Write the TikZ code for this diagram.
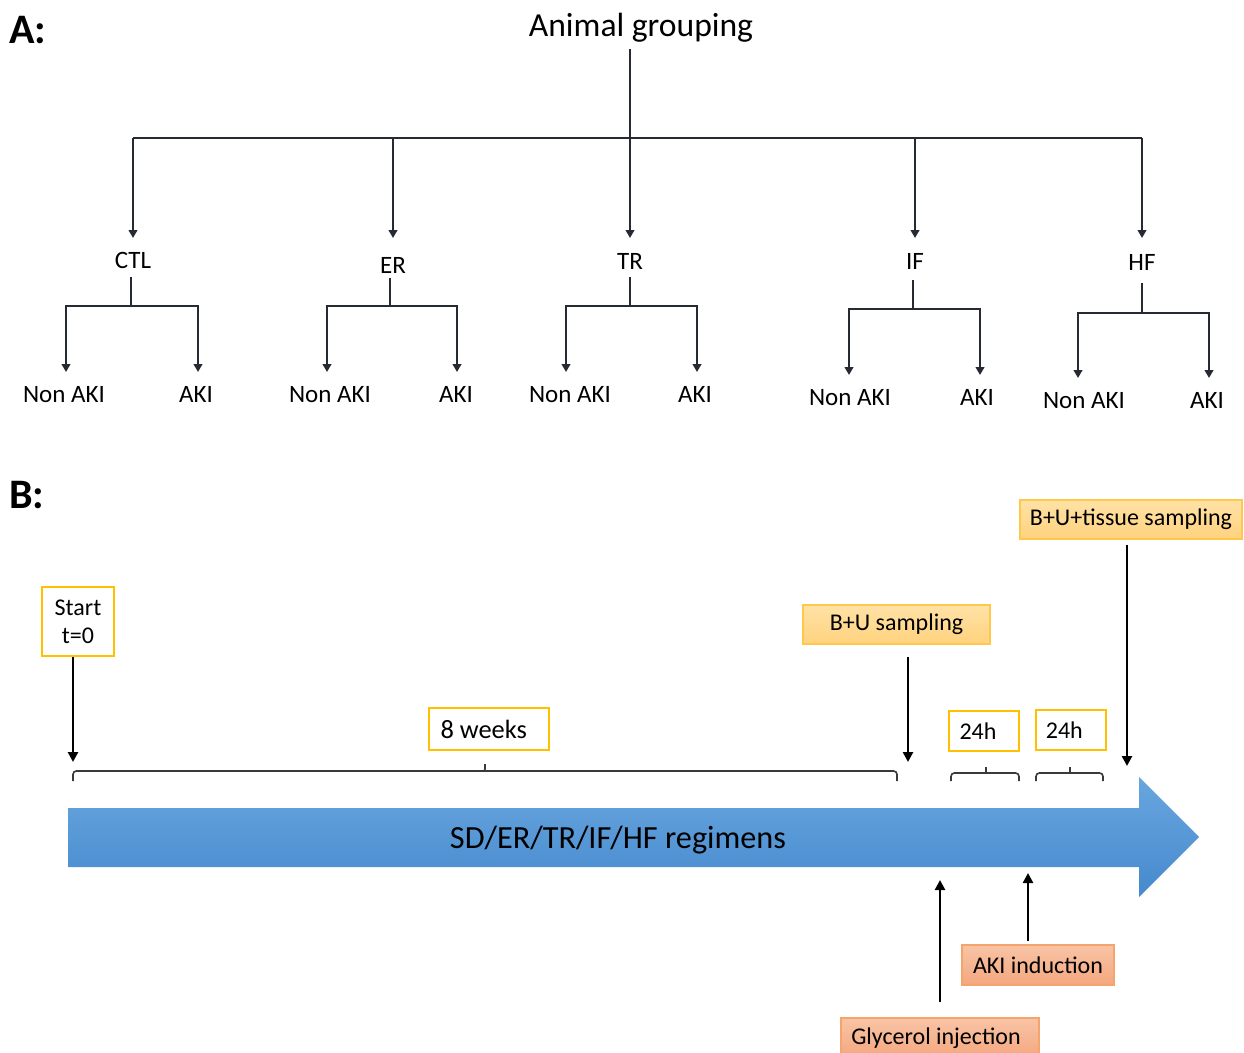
\documentclass[tikz,border=0pt]{standalone}
\usepackage{fontspec}
\setmainfont{Carlito}
\usetikzlibrary{arrows.meta,calc}
\definecolor{treeline}{HTML}{262B33}
\definecolor{gold}{HTML}{FFC000}
\definecolor{bracegray}{HTML}{3A3A3A}
\definecolor{yfillA}{HTML}{FFE2A6}
\definecolor{yfillB}{HTML}{FFD27E}
\definecolor{ydraw}{HTML}{FFC84A}
\definecolor{sfillA}{HTML}{F8C4A6}
\definecolor{sfillB}{HTML}{F4A77E}
\definecolor{sdraw}{HTML}{F5A46C}
\definecolor{blueA}{HTML}{69A6DF}
\definecolor{blueB}{HTML}{4589CD}
\tikzset{
  tline/.style={draw=treeline, line width=1.6pt},
  tarr/.style={tline, -{Triangle[length=6pt,width=6.5pt]}},
  lbl/.style={font=\fontsize{18.75}{22}\selectfont, inner sep=0pt, anchor=base},
  barr/.style={draw=black, line width=2pt, -{Triangle[length=7.5pt,width=7.5pt]}},
  brc/.style={draw=bracegray, line width=1.2pt, rounded corners=2.5pt},
  tbox/.style={draw=gold, line width=1.4pt, fill=white, inner sep=0pt, font=\fontsize{18}{21}\selectfont},
  ybox/.style={draw=ydraw, line width=1pt, top color=yfillA, bottom color=yfillB, inner sep=0pt, font=\fontsize{18}{21}\selectfont},
  sbox/.style={draw=sdraw, line width=1pt, top color=sfillA, bottom color=sfillB, inner sep=0pt, font=\fontsize{18}{21}\selectfont},
  panel/.style={font=\fontsize{31.5}{34}\selectfont\bfseries, inner sep=0pt, anchor=base west}
}
\begin{document}
\begin{tikzpicture}[x=0.75pt,y=-0.75pt]
\useasboundingbox (0,0) rectangle (1244,1052);

% ---------- Panel A ----------
\node[panel] (labA) at (9,44) {A:};
\node[lbl, font=\fontsize{25.2}{28}\selectfont] (root) at (641,37) {Animal grouping};
\coordinate (hub) at (630,138);
\coordinate (aend) at (0,238);
\draw[tline, line width=1.9pt] (root.south -| hub) ++(0,6) -- (hub);

% group labels
\node[lbl] (gctl) at (133,268) {CTL};
\node[lbl] (ger)  at (393,273) {ER};
\node[lbl] (gtr)  at (630,269) {TR};
\node[lbl] (gif)  at (915,269) {IF};
\node[lbl] (ghf)  at (1142,270) {HF};

\draw[tline, line width=1.9pt] (hub -| gctl) -- (hub -| ghf);
\foreach \g in {gctl,ger,gtr,gif,ghf}
  \draw[tarr, line width=1.9pt] (hub -| \g) -- (\g |- aend);

% sub trees
\foreach \n/\by/\vtop/\vx/\jy/\lx/\rx/\ae/\lb/\nlx/\alx in {
  ctl/268/277/131/306/66/198/372/402/64/196,
  er/273/278/390/306/327/457/372/402/330/456,
  tr/269/277/630/306/566/697/372/402/570/695,
  if/269/280/913/309/849/980/375/405/850/977,
  hf/270/283/1142/313/1078/1209/378/408/1084/1207}{
  \coordinate (j\n) at (\vx,\jy);
  \coordinate (le\n) at (\lx,\ae);
  \coordinate (re\n) at (\rx,\ae);
  \node[lbl] (n\n) at (\nlx,\lb) {Non AKI};
  \node[lbl] (a\n) at (\alx,\lb) {AKI};
  \draw[tline] (g\n.south -| j\n) ++(0,{\vtop-\by}) -- (j\n);
  \draw[tarr] (j\n) -| (le\n);
  \draw[tarr] (j\n) -| (re\n);
}

% ---------- Panel B ----------
\node[panel] (labB) at (9,508) {B:};

% big arrow
\path[top color=blueA, bottom color=blueB]
  (68,808) -- (1139,808) -- (1139,777) -- (1199,837) -- (1139,897) -- (1139,867) -- (68,867) -- cycle;
\node[lbl, font=\fontsize{24.2}{28}\selectfont] (reg) at (618,848) {SD/ER/TR/IF/HF regimens};

% braces
\draw[brc] (73,781) -- (73,771) -- (897,771) -- (897,781);
\draw[brc, rounded corners=1.5pt] (481,771) -- (485,771) -- (485,764);
\draw[brc] (951,781) -- (951,773) -- (1019,773) -- (1019,781);
\draw[brc, rounded corners=1.5pt] (986,773) -- (986,767);
\draw[brc] (1036,781) -- (1036,773) -- (1103,773) -- (1103,781);
\draw[brc, rounded corners=1.5pt] (1070,773) -- (1070,767);

% boxes
\node[tbox, minimum width=54pt, minimum height=51.75pt, align=center] (start) at (78,621.5) {Start\\t=0};
\node[tbox, minimum width=90pt, minimum height=31.5pt, font=\fontsize{19.8}{22}\selectfont] (weeks) at (489,729) {8 weeks\kern8pt};
\node[ybox, minimum width=140.25pt, minimum height=29.25pt] (bu) at (896.5,624.5) {B+U sampling};
\node[ybox, minimum width=166.5pt, minimum height=29.25pt] (tis) at (1131,519.5) {B+U+tissue sampling};
\node[tbox, minimum width=52.5pt, minimum height=30pt] (hA) at (984,731) {24h\kern9pt};
\node[tbox, minimum width=52.5pt, minimum height=30pt] (hB) at (1071,730) {24h\kern10pt};
\node[sbox, minimum width=114pt, minimum height=30pt] (aki) at (1038,965) {AKI induction};
\node[sbox, minimum width=148.5pt, minimum height=30pt] (gly) at (940,1038) {Glycerol injection\kern6pt};

% arrows
\coordinate (s0) at (73,762);
\draw[barr] (start.south -| s0) -- (s0);
\coordinate (bu0) at (908,762);
\draw[barr] (bu.south -| bu0) ++(0,12) -- (bu0);
\coordinate (t0) at (1127,766);
\draw[barr] (tis.south -| t0) ++(0,5) -- (t0);
\coordinate (g0) at (940,880);
\draw[barr] (gly.north -| g0) ++(0,-15) -- (g0);
\coordinate (k0) at (1028,873);
\draw[barr] (aki.north -| k0) ++(0,-3) -- (k0);
\end{tikzpicture}
\end{document}
